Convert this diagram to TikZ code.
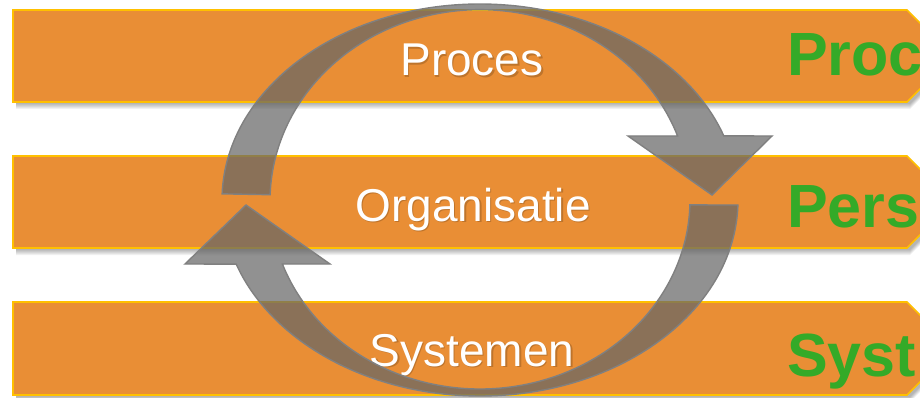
\documentclass[tikz,border=0pt]{standalone}
\usepackage{fontspec}
\setmainfont{Liberation Sans}
\definecolor{bannerorange}{HTML}{E98E35}
\definecolor{bannerline}{HTML}{FFC000}
\definecolor{labelgreen}{HTML}{34AA28}
\definecolor{arrowgray}{HTML}{666666}
\definecolor{arrowline}{HTML}{808080}
\newcommand\bannerpath[2]{(13,-#1) -- (907,-#1) -- ({907+(#2-#1)/2},{-(#1+#2)/2}) -- (907,-#2) -- (13,-#2) -- cycle}
\begin{document}
\begin{tikzpicture}[x=1pt,y=1pt,
  bannerbox/.style={fill=bannerorange, draw=bannerline, line width=1.6pt, line join=miter},
  bannershadow/.style={fill=black, fill opacity=0.055},
  whitelabel/.style={text=white, font=\fontsize{46}{50}\selectfont, anchor=base, inner sep=0pt},
  labelshadow/.style={text=black, text opacity=0.18, font=\fontsize{46}{50}\selectfont, anchor=base, inner sep=0pt},
  greenlabel/.style={text=labelgreen, font=\fontsize{61}{66}\selectfont\bfseries, anchor=base west, inner sep=0pt},
  cyclearrow/.style={fill=arrowgray, fill opacity=0.72, draw=arrowline, line width=1.4pt, line join=miter}]
\path[use as bounding box] (0,0) rectangle (920,-398);
\clip (0,0) rectangle (920,-398);
% banner shadows
\foreach \d in {2,3,4,5,6,7}{
  \begin{scope}[shift={(3,-\d)}]
    \fill[bannershadow] \bannerpath{10}{102};
    \fill[bannershadow] \bannerpath{156}{248};
    \fill[bannershadow] \bannerpath{302}{395};
  \end{scope}
}
% banners
\draw[bannerbox] \bannerpath{10}{102};
\draw[bannerbox] \bannerpath{156}{248};
\draw[bannerbox] \bannerpath{302}{395};
% white labels with soft shadow
\node[labelshadow] (procS) at (473.5,-77.5) {Proces};
\node[labelshadow] (orgS) at (474.5,-222.5) {Organisatie};
\node[labelshadow] (sysS) at (473.5,-367.5) {Systemen};
\node[whitelabel] (proces) at (472,-76) {Proces};
\node[whitelabel] (organisatie) at (473,-221) {Organisatie};
\node[whitelabel] (systemen) at (472,-366) {Systemen};
% green labels
\node[greenlabel] (proc) at (787,-76) {Proc};
\node[greenlabel] (pers) at (787,-227) {Pers};
\node[greenlabel] (syst) at (787,-376) {Syst};
% circular arrows
\filldraw[cyclearrow] (480,-200) ++(178.2:258pt and 196pt)
  arc[start angle=178.2, end angle=19.1, x radius=258pt, y radius=196pt]
  -- (772,-136) -- (712,-195) -- (628,-136) -- (677.6,-136)
  arc[start angle=19.8, end angle=178.2, x radius=210pt, y radius=191pt] -- cycle;
\filldraw[cyclearrow] (480,-200) ++(-1.46:258pt and 196pt)
  arc[start angle=-1.46, end angle=-160.9, x radius=258pt, y radius=196pt]
  -- (185,-264) -- (246,-205) -- (330,-264) -- (282.4,-264)
  arc[start angle=-160.2, end angle=-1.5, x radius=210pt, y radius=189pt] -- cycle;
\end{tikzpicture}
\end{document}
